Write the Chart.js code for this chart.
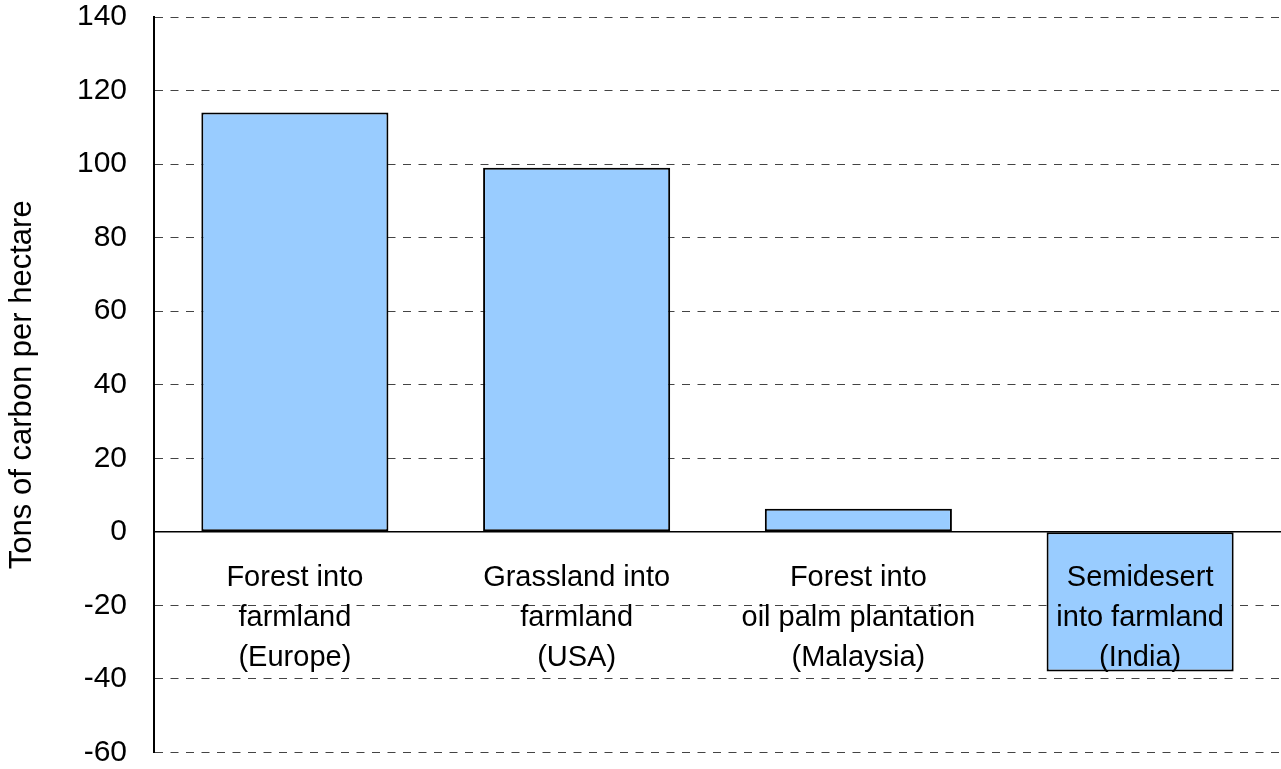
<!DOCTYPE html>
<html>
<head>
<meta charset="utf-8">
<script src="https://cdn.jsdelivr.net/npm/chart.js@4/dist/chart.umd.min.js"></script>
<style>
  html, body { margin: 0; padding: 0; background: #fff; }
  #wrap { width: 1281px; height: 769px; }
</style>
</head>
<body>
<div id="wrap"><canvas id="chart"></canvas></div>
<script>
// categories (each one is a list of label lines)
const categories = [
    ['Forest into', 'farmland', '(Europe)'],
    ['Grassland into', 'farmland', '(USA)'],
    ['Forest into', 'oil palm plantation', '(Malaysia)'],
    ['Semidesert', 'into farmland', '(India)']
];
// tons of carbon per hectare
const carbonValues = [114, 99, 6.3, -38];
const yMin = -60;
const yMax = 140;
const yStep = 20;
const yTitle = 'Tons of carbon per hectare';

const FONT = '"Liberation Sans", Arial, sans-serif';

// Draws the zero line and the category labels just under it
const zeroLinePlugin = {
    id: 'zeroLine',
    afterDatasetsDraw(chart) {
        const ctx = chart.ctx;
        const area = chart.chartArea;
        const y0 = chart.scales.y.getPixelForValue(0);
        ctx.save();
        ctx.strokeStyle = '#000';
        ctx.lineWidth = 1.5;
        ctx.beginPath();
        ctx.moveTo(area.left, y0);
        ctx.lineTo(area.right, y0);
        ctx.stroke();

        ctx.fillStyle = '#000';
        ctx.font = '29px ' + FONT;
        ctx.textAlign = 'center';
        ctx.textBaseline = 'middle';
        categories.forEach((lines, i) => {
            const x = chart.scales.x.getPixelForValue(i);
            lines.forEach((line, j) => {
                ctx.fillText(line, x, y0 + 46 + j * 40);
            });
        });
        ctx.restore();
    }
};

new Chart(document.getElementById('chart'), {
    type: 'bar',
    data: {
        labels: categories.map(c => c.join(' ')),
        datasets: [{
            data: carbonValues,
            backgroundColor: '#99CCFF',
            borderColor: '#000',
            borderWidth: 2,
            borderSkipped: false,
            barPercentage: 0.664,
            categoryPercentage: 1
        }]
    },
    options: {
        responsive: true,
        maintainAspectRatio: false,
        animation: false,
        layout: { padding: { top: 17, bottom: 16, right: 0, left: 0 } },
        plugins: {
            legend: { display: false },
            tooltip: { enabled: false }
        },
        scales: {
            x: {
                display: false
            },
            y: {
                min: yMin,
                max: yMax,
                afterFit: (scale) => { scale.width = 154; },
                ticks: {
                    stepSize: yStep,
                    color: '#000',
                    font: { family: FONT, size: 30, lineHeight: 1.1 },
                    padding: 0
                },
                grid: {
                    color: '#444',
                    lineWidth: 1,
                    drawTicks: true,
                    tickLength: 27,
                    tickColor: 'rgba(0,0,0,0)'
                },
                border: {
                    display: true,
                    color: '#000',
                    width: 2,
                    dash: [8, 7.5]
                },
                title: {
                    display: true,
                    text: yTitle,
                    color: '#000',
                    font: { family: FONT, size: 31 },
                    padding: { top: 4, bottom: 0 }
                }
            }
        }
    },
    plugins: [zeroLinePlugin]
});
</script>
</body>
</html>
